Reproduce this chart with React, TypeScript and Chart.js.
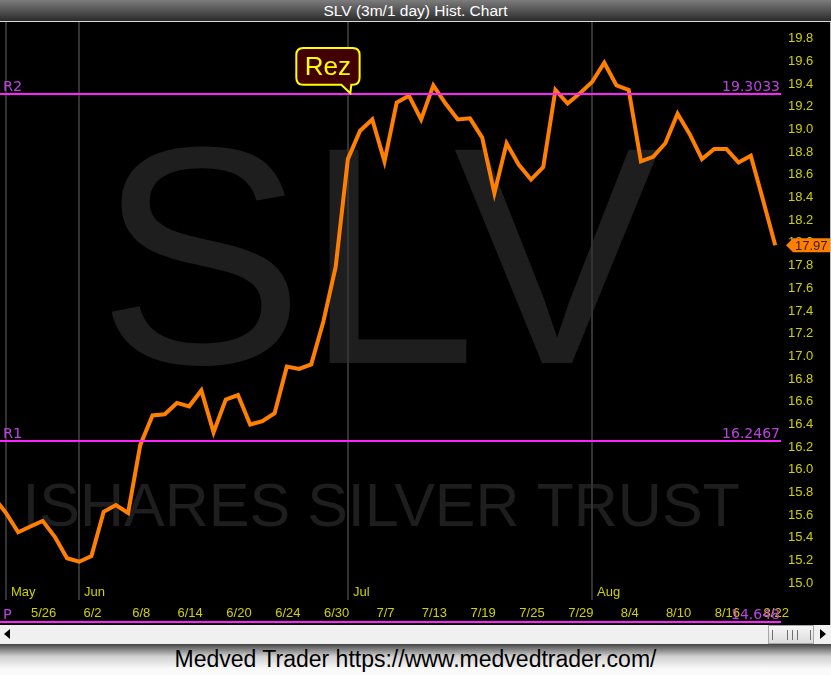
import React, { useEffect, useRef } from "react";
import { Chart, registerables } from "chart.js";

Chart.register(...registerables);

// ---------- data ----------
const DATES: string[] = [
  "5/20", "5/23", "5/24", "5/25", "5/26", "5/27", "5/31",
  "6/1", "6/2", "6/3", "6/6", "6/7", "6/8", "6/9", "6/10", "6/13", "6/14", "6/15", "6/16", "6/17",
  "6/20", "6/21", "6/22", "6/23", "6/24", "6/27", "6/28", "6/29", "6/30",
  "7/1", "7/5", "7/6", "7/7", "7/8", "7/11", "7/12", "7/13", "7/14", "7/15", "7/18", "7/19",
  "7/20", "7/21", "7/22", "7/25", "7/26", "7/27", "7/28", "7/29",
  "8/1", "8/2", "8/3", "8/4", "8/5", "8/8", "8/9", "8/10", "8/11", "8/12", "8/15", "8/16",
  "8/17", "8/18", "8/19", "8/22",
];

const PRICES: number[] = [
  15.75, 15.61, 15.44, 15.49, 15.54, 15.40, 15.21,
  15.18, 15.23, 15.62, 15.68, 15.61, 16.21, 16.47, 16.48, 16.58, 16.55, 16.69, 16.32, 16.61,
  16.65, 16.39, 16.42, 16.49, 16.90, 16.88, 16.92, 17.30, 17.78,
  18.73, 18.98, 19.08, 18.71, 19.23, 19.29, 19.08, 19.38, 19.22, 19.08, 19.09, 18.92,
  18.43, 18.87, 18.68, 18.55, 18.66, 19.34, 19.22, 19.31,
  19.41, 19.58, 19.38, 19.34, 18.71, 18.75, 18.87, 19.13, 18.95, 18.73, 18.82, 18.82,
  18.70, 18.76, 18.37, 17.97,
];

const DATE_TICKS: string[] = [
  "5/26", "6/2", "6/8", "6/14", "6/20", "6/24", "6/30", "7/7",
  "7/13", "7/19", "7/25", "7/29", "8/4", "8/10", "8/16", "8/22",
];

const MONTH_NAMES: string[] = ["May", "Jun", "Jul", "Aug"];
const MONTH_START_DATES: string[] = ["5/23", "6/1", "7/1", "8/1"];

const Y_TICKS: number[] = [
  15.0, 15.2, 15.4, 15.6, 15.8, 16.0, 16.2, 16.4, 16.6, 16.8, 17.0, 17.2, 17.4,
  17.6, 17.8, 18.0, 18.2, 18.4, 18.6, 18.8, 19.0, 19.2, 19.4, 19.6, 19.8,
];

const LEVEL_NAMES: string[] = ["R2", "R1", "P"];
const LEVEL_VALUES: number[] = [19.3033, 16.2467, 14.648];

const CALLOUT_TEXT = "Rez";
const CALLOUT_DATE = "7/1";

const TITLE = "SLV (3m/1 day) Hist. Chart";
const FOOTER = "Medved Trader https://www.medvedtrader.com/";
const WATERMARK = "SLV";
const WATERMARK_SUB = "ISHARES SILVER TRUST";

// ---------- layout / style ----------
const X_MIN = 0.51;
const X_MAX = 64.555;
const Y_MIN = 14.6218;
const Y_MAX = 19.9393;
const FONT = '"Liberation Sans", Arial, sans-serif';
const YELLOW = "#d0d000";
const MAGENTA = "#ff22ff";
const LEVEL_TEXT = "#bb44dd";
const ORANGE = "#ff8000";

const overlayPlugin = {
  id: "overlay",
  beforeDatasetsDraw(chart: any) {
    const { ctx, chartArea, scales } = chart;
    const x = scales.x;
    ctx.save();

    // watermark
    ctx.fillStyle = "#1e1e1e";
    ctx.textBaseline = "alphabetic";
    ctx.textAlign = "left";
    ctx.font = `310px ${FONT}`;
    let m = ctx.measureText(WATERMARK);
    ctx.fillText(WATERMARK, 384.5 - (m.actualBoundingBoxRight - m.actualBoundingBoxLeft) / 2, 341);
    ctx.font = `61px ${FONT}`;
    m = ctx.measureText(WATERMARK_SUB);
    ctx.fillText(WATERMARK_SUB, 383 - (m.actualBoundingBoxRight - m.actualBoundingBoxLeft) / 2, 504);

    // month separators
    ctx.strokeStyle = "#333333";
    ctx.lineWidth = 2;
    ctx.fillStyle = YELLOW;
    ctx.font = `13px ${FONT}`;
    MONTH_START_DATES.forEach((d, k) => {
      const px = Math.round(x.getPixelForValue(DATES.indexOf(d)));
      ctx.beginPath();
      ctx.moveTo(px, chartArea.top);
      ctx.lineTo(px, 578);
      ctx.stroke();
      ctx.fillText(MONTH_NAMES[k], px + 5, 574);
    });

    // date labels
    ctx.textAlign = "center";
    DATE_TICKS.forEach((d) => {
      const px = x.getPixelForValue(DATES.indexOf(d));
      ctx.fillText(d, px + 1, 595);
    });
    ctx.restore();
  },
  afterDatasetsDraw(chart: any) {
    const { ctx, chartArea, scales } = chart;
    const x = scales.x;
    const y = scales.y;
    ctx.save();

    // levels
    LEVEL_VALUES.forEach((v, k) => {
      const py = Math.round(y.getPixelForValue(v));
      ctx.strokeStyle = MAGENTA;
      ctx.lineWidth = 2;
      ctx.beginPath();
      ctx.moveTo(chartArea.left, py);
      ctx.lineTo(chartArea.right - 1, py);
      ctx.stroke();
      ctx.fillStyle = LEVEL_TEXT;
      ctx.textBaseline = "alphabetic";
      ctx.font = `14.5px "DejaVu Sans", sans-serif`;
      ctx.textAlign = "left";
      ctx.fillText(LEVEL_NAMES[k], 3, py - 3.5);
      ctx.font = `14px "DejaVu Sans", sans-serif`;
      ctx.textAlign = "right";
      ctx.fillText(v.toFixed(v === LEVEL_VALUES[2] ? 3 : 4), chartArea.right - 2, py - 3.5);
    });

    // callout
    const tx = x.getPixelForValue(DATES.indexOf(CALLOUT_DATE) + 0.2);
    const ty = y.getPixelForValue(LEVEL_VALUES[0]) - 1;
    const L = tx - 54, R = tx + 9.3, T = ty - 45, B = ty - 8.3, r = 7;
    ctx.beginPath();
    ctx.moveTo(L + r, T);
    ctx.lineTo(R - r, T);
    ctx.quadraticCurveTo(R, T, R, T + r);
    ctx.lineTo(R, B - r);
    ctx.quadraticCurveTo(R, B, R - r, B);
    ctx.lineTo(tx + 1, B);
    ctx.lineTo(tx, ty);
    ctx.lineTo(tx - 9, B);
    ctx.lineTo(L + r, B);
    ctx.quadraticCurveTo(L, B, L, B - r);
    ctx.lineTo(L, T + r);
    ctx.quadraticCurveTo(L, T, L + r, T);
    ctx.closePath();
    ctx.fillStyle = "#420000";
    ctx.fill();
    ctx.strokeStyle = "#ffff00";
    ctx.lineWidth = 2;
    ctx.stroke();
    ctx.fillStyle = "#ffff00";
    ctx.font = `26px ${FONT}`;
    ctx.textAlign = "center";
    ctx.textBaseline = "alphabetic";
    ctx.fillText(CALLOUT_TEXT, (L + R) / 2, ty - 18.3);

    // last price tag
    const last = PRICES[PRICES.length - 1];
    const ly = y.getPixelForValue(last);
    const ax = chartArea.right + 4;
    ctx.beginPath();
    ctx.moveTo(ax, ly);
    ctx.lineTo(ax + 7, ly - 7);
    ctx.lineTo(ax + 45, ly - 7);
    ctx.lineTo(ax + 45, ly + 7);
    ctx.lineTo(ax + 7, ly + 7);
    ctx.closePath();
    ctx.fillStyle = ORANGE;
    ctx.fill();
    ctx.fillStyle = "#3a1a00";
    ctx.font = `13px ${FONT}`;
    ctx.textAlign = "left";
    ctx.textBaseline = "middle";
    ctx.fillText(last.toFixed(2), ax + 9, ly + 1);
    ctx.restore();
  },
};

export default function App() {
  const ref = useRef<HTMLCanvasElement | null>(null);

  useEffect(() => {
    document.body.style.margin = "0";
    if (!ref.current) return;
    const chart = new Chart(ref.current, {
      type: "line",
      data: {
        datasets: [
          {
            data: PRICES.map((v, i) => ({ x: i, y: v })),
            borderColor: ORANGE,
            borderWidth: 4,
            pointRadius: 0,
            tension: 0,
            fill: false,
          },
        ],
      },
      options: {
        animation: false,
        responsive: false,
        maintainAspectRatio: false,
        devicePixelRatio: 1,
        layout: { padding: 0 },
        plugins: {
          legend: { display: false },
          tooltip: { enabled: false },
        },
        scales: {
          x: { type: "linear", display: false, min: X_MIN, max: X_MAX },
          y: {
            position: "right",
            min: Y_MIN,
            max: Y_MAX,
            grid: { display: false, drawTicks: false },
            border: { display: false },
            afterBuildTicks: (s: any) => {
              s.ticks = Y_TICKS.map((v) => ({ value: v }));
            },
            afterFit: (s: any) => {
              s.width = 49;
              s.paddingTop = 0;
              s.paddingBottom = 0;
            },
            ticks: {
              color: YELLOW,
              font: { family: FONT, size: 13 },
              padding: 6,
              labelOffset: 1,
              autoSkip: false,
              callback: (v: any) => Number(v).toFixed(1),
            },
          },
        },
      } as any,
      plugins: [overlayPlugin],
    });
    return () => chart.destroy();
  }, []);

  return (
    <div
      style={{
        position: "relative",
        width: 831,
        height: 675,
        background: "#000",
        overflow: "hidden",
        fontFamily: FONT,
      }}
    >
      <div
        style={{
          position: "absolute",
          left: 0,
          top: 0,
          width: 831,
          height: 21,
          background: "linear-gradient(#7c7c7c, #2a2a2a)",
          borderBottom: "1px solid #d8d8d8",
          color: "#fff",
          fontSize: 15.5,
          lineHeight: "21px",
          textAlign: "center",
        }}
      >
        {TITLE}
      </div>
      <canvas
        ref={ref}
        width={831}
        height={603}
        style={{ position: "absolute", left: 0, top: 22, display: "block" }}
      />
      <div
        style={{
          position: "absolute",
          left: 830,
          top: 22,
          width: 1,
          height: 603,
          background: "#bdbdbd",
        }}
      />
      <div
        style={{
          position: "absolute",
          left: 0,
          top: 625,
          width: 831,
          height: 19,
          background: "#f0f0f0",
        }}
      >
        <div
          style={{
            position: "absolute",
            left: 4,
            top: 4,
            width: 0,
            height: 0,
            borderTop: "5px solid transparent",
            borderBottom: "5px solid transparent",
            borderRight: "6px solid #000",
          }}
        />
        <div
          style={{
            position: "absolute",
            left: 768,
            top: 0,
            width: 44,
            height: 17,
            border: "1px solid #a8a8a8",
            background: "linear-gradient(#f6f6f6, #dcdcdc)",
          }}
        >
          {[3, 18, 23, 28, 41].map((lx) => (
            <div
              key={lx}
              style={{
                position: "absolute",
                left: lx,
                top: 4,
                width: 1,
                height: 10,
                background: "#707070",
              }}
            />
          ))}
        </div>
        <div
          style={{
            position: "absolute",
            left: 820,
            top: 4,
            width: 0,
            height: 0,
            borderTop: "5px solid transparent",
            borderBottom: "5px solid transparent",
            borderLeft: "6px solid #000",
          }}
        />
      </div>
      <div
        style={{
          position: "absolute",
          left: 0,
          top: 644,
          width: 831,
          height: 31,
          background: "linear-gradient(#444444, #d0d0d0 40%, #fafafa 80%)",
          color: "#000",
          fontSize: 23,
          lineHeight: "31px",
          textAlign: "center",
        }}
      >
        {FOOTER}
      </div>
    </div>
  );
}
